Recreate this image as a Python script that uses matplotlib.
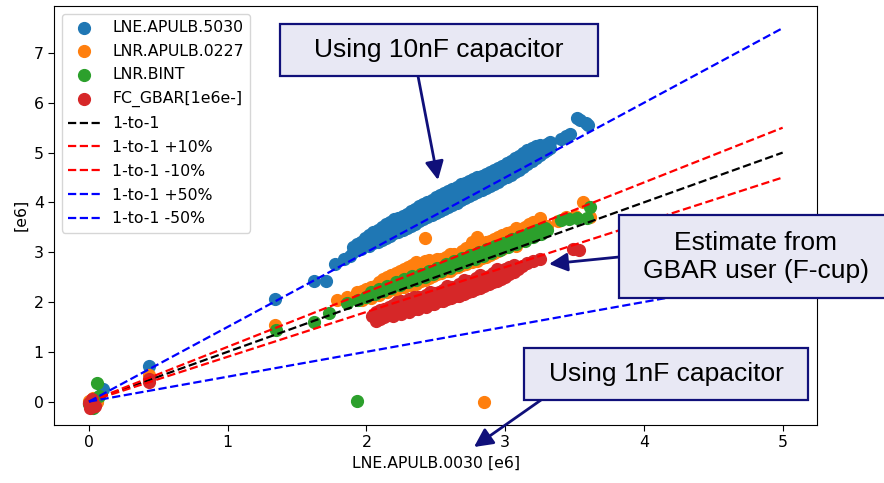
import numpy as np
import matplotlib
matplotlib.use("Agg")
import matplotlib.pyplot as plt
from matplotlib.patches import Rectangle

plt.rcParams["font.size"] = 11.3
plt.rcParams["xtick.major.size"] = 4
plt.rcParams["ytick.major.size"] = 4

# scatter data, (x, y) in units of 1e6
blue_pts = [(0.00, -0.02), (0.04, 0.05), (0.06, 0.02), (0.10, 0.25), (0.43, 0.72),
            (1.34, 2.06), (1.62, 2.42), (1.71, 2.42), (1.77, 2.76), (1.84, 2.86), (1.88, 2.92),
            (1.90, 3.00), (1.90, 3.10), (1.93, 3.05), (1.93, 3.16), (1.96, 3.06), (1.96, 3.20),
            (1.99, 3.14), (1.99, 3.28), (2.02, 3.12), (2.02, 3.25), (2.02, 3.35),
            (2.05, 3.18), (2.05, 3.30), (2.05, 3.40), (2.08, 3.20), (2.08, 3.34), (2.08, 3.45),
            (2.11, 3.24), (2.11, 3.38), (2.11, 3.50), (2.14, 3.28), (2.14, 3.42), (2.14, 3.56),
            (2.17, 3.32), (2.17, 3.47), (2.17, 3.60), (2.20, 3.38), (2.20, 3.52), (2.20, 3.66),
            (2.23, 3.40), (2.23, 3.55), (2.23, 3.69), (2.26, 3.44), (2.26, 3.58), (2.26, 3.72),
            (2.29, 3.48), (2.29, 3.63), (2.29, 3.77), (2.32, 3.52), (2.32, 3.68), (2.32, 3.82),
            (2.35, 3.57), (2.35, 3.72), (2.35, 3.87), (2.38, 3.62), (2.38, 3.76), (2.38, 3.92),
            (2.41, 3.66), (2.41, 3.81), (2.41, 3.96), (2.44, 3.70), (2.44, 3.86), (2.44, 4.00),
            (2.47, 3.74), (2.47, 3.90), (2.47, 4.05), (2.50, 3.78), (2.50, 3.94), (2.50, 4.10),
            (2.53, 3.82), (2.53, 3.98), (2.53, 4.14), (2.56, 3.86), (2.56, 4.02), (2.56, 4.18),
            (2.59, 3.90), (2.59, 4.06), (2.59, 4.22), (2.62, 3.94), (2.62, 4.10), (2.62, 4.26),
            (2.65, 3.99), (2.65, 4.15), (2.65, 4.31), (2.68, 4.04), (2.68, 4.20), (2.68, 4.36),
            (2.71, 4.08), (2.71, 4.24), (2.71, 4.39), (2.74, 4.12), (2.74, 4.28), (2.74, 4.42),
            (2.77, 4.16), (2.77, 4.32), (2.77, 4.46), (2.80, 4.20), (2.80, 4.36), (2.80, 4.50),
            (2.83, 4.24), (2.83, 4.40), (2.83, 4.54), (2.86, 4.28), (2.86, 4.44), (2.86, 4.58),
            (2.89, 4.32), (2.89, 4.48), (2.89, 4.62), (2.92, 4.36), (2.92, 4.52), (2.92, 4.66),
            (2.95, 4.41), (2.95, 4.56), (2.95, 4.70), (2.98, 4.46), (2.98, 4.60), (2.98, 4.74),
            (3.01, 4.51), (3.01, 4.65), (3.01, 4.79), (3.04, 4.56), (3.04, 4.70), (3.04, 4.84),
            (3.07, 4.61), (3.07, 4.75), (3.07, 4.89), (3.10, 4.66), (3.10, 4.80), (3.10, 4.94),
            (3.13, 4.72), (3.13, 4.86), (3.13, 5.00), (3.16, 4.78), (3.16, 4.92), (3.16, 5.06),
            (3.19, 4.84), (3.19, 4.97), (3.19, 5.10), (3.22, 4.90), (3.22, 5.02), (3.22, 5.14),
            (3.25, 4.96), (3.25, 5.08), (3.25, 5.16), (3.28, 5.02), (3.28, 5.14),
            (3.30, 5.06), (3.30, 5.18), (3.32, 5.10), (3.32, 5.22),
            (3.40, 5.28), (3.44, 5.34), (3.47, 5.38), (3.52, 5.70), (3.54, 5.66),
            (3.58, 5.60), (3.60, 5.56)]

orange_pts = [(0.00, 0.02), (0.03, 0.08), (0.06, 0.00), (0.43, 0.54), (1.34, 1.54),
              (1.79, 2.04), (1.86, 2.10), (1.93, 2.09), (1.93, 2.20),
              (1.97, 2.04), (1.97, 2.22), (2.00, 2.12), (2.00, 2.26), (2.03, 2.08), (2.03, 2.30),
              (2.06, 2.18), (2.06, 2.32), (2.09, 2.14), (2.09, 2.40),
              (2.12, 2.22), (2.12, 2.34), (2.12, 2.47), (2.15, 2.20), (2.15, 2.50),
              (2.18, 2.28), (2.18, 2.42), (2.18, 2.55), (2.21, 2.24), (2.21, 2.58),
              (2.24, 2.30), (2.24, 2.48), (2.24, 2.62), (2.27, 2.30), (2.27, 2.66),
              (2.30, 2.34), (2.30, 2.52), (2.30, 2.70), (2.33, 2.34), (2.33, 2.74),
              (2.36, 2.36), (2.36, 2.58), (2.36, 2.80), (2.39, 2.42), (2.39, 2.76),
              (2.42, 2.44), (2.42, 2.64), (2.42, 2.82), (2.45, 2.48), (2.45, 2.84),
              (2.48, 2.52), (2.48, 2.80), (2.51, 2.56), (2.51, 2.86),
              (2.54, 2.58), (2.54, 2.86), (2.57, 2.62), (2.57, 2.90),
              (2.60, 2.62), (2.60, 2.80), (2.60, 2.97), (2.63, 2.68), (2.63, 2.96),
              (2.66, 2.70), (2.66, 2.92), (2.69, 2.74), (2.69, 3.02),
              (2.72, 2.76), (2.72, 2.96), (2.72, 3.08), (2.76, 2.80), (2.76, 3.20),
              (2.80, 2.82), (2.80, 3.10), (2.80, 3.31), (2.83, 2.88), (2.83, 3.18),
              (2.86, 2.90), (2.86, 3.20), (2.89, 2.94), (2.89, 3.22),
              (2.92, 2.98), (2.92, 3.26), (2.95, 3.02), (2.95, 3.30),
              (2.98, 3.06), (2.98, 3.34), (3.01, 3.10), (3.01, 3.38),
              (3.04, 3.14), (3.04, 3.40), (3.08, 3.13), (3.08, 3.48), (3.11, 3.22), (3.11, 3.46),
              (3.14, 3.30), (3.14, 3.50), (3.17, 3.36), (3.17, 3.56),
              (3.20, 3.40), (3.20, 3.60), (3.25, 3.43), (3.25, 3.68), (3.30, 3.52),
              (3.38, 3.62), (3.44, 3.70), (3.50, 3.72), (3.56, 4.00), (3.61, 3.70),
              (2.42, 3.28), (2.85, 0.00)]

green_pts = [(0.00, -0.05), (0.03, -0.12), (0.06, 0.38), (0.07, 0.12), (1.35, 1.44),
             (1.62, 1.60), (1.73, 1.78), (1.86, 1.98), (1.94, 2.05), (2.00, 2.10),
             (2.06, 2.16), (2.12, 2.22), (2.18, 2.28), (2.24, 2.34), (2.30, 2.40),
             (2.36, 2.44), (2.42, 2.50), (2.48, 2.56), (2.54, 2.62), (2.60, 2.68),
             (2.66, 2.74), (2.72, 2.80), (2.78, 2.86), (2.84, 2.92), (2.90, 2.98),
             (2.96, 3.04), (3.02, 3.10), (3.08, 3.16), (3.14, 3.22), (3.20, 3.30),
             (3.26, 3.36), (3.30, 3.44),
             (2.03, 2.20), (2.09, 2.26), (2.15, 2.32), (2.21, 2.40), (2.27, 2.46),
             (2.33, 2.52), (2.39, 2.56), (2.45, 2.62), (2.51, 2.68), (2.57, 2.76),
             (2.63, 2.82), (2.69, 2.88), (2.75, 2.94), (2.81, 3.00), (2.87, 3.06),
             (2.93, 3.12), (2.99, 3.18), (3.05, 3.26), (3.11, 3.32), (3.17, 3.38),
             (3.23, 3.44), (3.29, 3.48),
             (3.40, 3.64), (3.46, 3.66), (3.52, 3.68), (3.59, 3.68), (3.61, 3.90),
             (1.93, 0.02)]

red_pts = [(0.00, -0.03), (0.02, 0.05), (0.04, -0.08), (0.01, -0.12), (0.43, 0.40), (0.43, 0.46),
           (2.04, 1.72), (2.07, 1.80), (2.07, 1.62), (2.10, 1.66), (2.10, 1.84),
           (2.13, 1.70), (2.13, 1.86), (2.16, 1.74), (2.16, 1.90), (2.19, 1.72), (2.19, 1.94),
           (2.22, 1.78), (2.22, 1.92), (2.22, 2.00), (2.25, 1.76), (2.25, 2.02),
           (2.28, 1.82), (2.28, 1.98), (2.31, 1.80), (2.31, 2.06),
           (2.34, 1.86), (2.34, 2.00), (2.34, 2.10), (2.37, 1.86), (2.37, 2.10),
           (2.40, 1.92), (2.40, 2.10), (2.43, 1.90), (2.43, 2.14),
           (2.46, 1.96), (2.46, 2.08), (2.46, 2.20), (2.49, 1.96), (2.49, 2.18),
           (2.52, 2.02), (2.52, 2.20), (2.55, 2.02), (2.55, 2.24),
           (2.58, 2.06), (2.58, 2.20), (2.58, 2.32), (2.61, 2.08), (2.61, 2.30),
           (2.64, 2.12), (2.64, 2.30), (2.67, 2.12), (2.67, 2.36),
           (2.70, 2.16), (2.70, 2.30), (2.70, 2.44), (2.73, 2.20), (2.73, 2.42),
           (2.76, 2.22), (2.76, 2.40), (2.79, 2.26), (2.79, 2.48),
           (2.82, 2.28), (2.82, 2.42), (2.82, 2.54), (2.85, 2.32), (2.85, 2.50),
           (2.88, 2.36), (2.88, 2.52), (2.91, 2.40), (2.91, 2.58),
           (2.94, 2.42), (2.94, 2.56), (2.94, 2.67), (2.97, 2.46), (2.97, 2.62),
           (3.00, 2.50), (3.00, 2.66), (3.03, 2.56), (3.03, 2.70),
           (3.06, 2.60), (3.06, 2.74), (3.09, 2.66), (3.12, 2.72), (3.16, 2.78),
           (3.20, 2.82), (3.25, 2.86), (3.49, 3.06), (3.53, 3.04)]

series = [("LNE.APULB.5030", blue_pts, "tab:blue"),
          ("LNR.APULB.0227", orange_pts, "tab:orange"),
          ("LNR.BINT", green_pts, "tab:green"),
          ("FC_GBAR[1e6e-]", red_pts, "tab:red")]

# reference lines: label, slope, colour
ref_lines = [("1-to-1", 1.0, "k"),
             ("1-to-1 +10%", 1.1, "r"),
             ("1-to-1 -10%", 0.9, "r"),
             ("1-to-1 +50%", 1.5, "b"),
             ("1-to-1 -50%", 0.5, "b")]
line_x = np.array([0.0, 5.0])

fig = plt.figure(figsize=(8.84, 4.83), dpi=100)
ax = fig.add_axes([0.0614, 0.1201, 0.8632, 0.8681])

for name, pts, c in series:
    xy = np.array(pts)
    ax.scatter(xy[:, 0], xy[:, 1], s=72, color=c, label=name)
for name, k, c in ref_lines:
    ax.plot(line_x, k * line_x, "--", color=c, lw=1.6, label=name)

ax.set_xlim(-0.25, 5.25)
ax.set_ylim(-0.47, 7.95)
ax.set_xlabel("LNE.APULB.0030 [e6]")
ax.set_ylabel("[e6]")
ax.legend(loc="upper left", fontsize=11.3, labelspacing=0.56)

# call-out boxes in figure pixels (x0, y_top, width, height), text centre
navy = "#10107a"
fill = "#e8e8f4"
W, H = 884.0, 483.0
boxes = [((280, 24, 318, 52), (439, 50), "Using 10nF capacitor"),
         ((619, 215, 275, 83), (756, 257), "Estimate from\nGBAR user (F-cup)"),
         ((524, 348, 284, 52), (666, 374), "Using 1nF capacitor")]
for (x0, y0, w, h), (tx, ty), txt in boxes:
    fig.patches.append(Rectangle((x0 / W, 1 - (y0 + h) / H), w / W, h / H,
                                 transform=fig.transFigure, facecolor=fill,
                                 edgecolor=navy, lw=1.6, zorder=5))
    fig.text(tx / W, 1 - ty / H, txt, ha="center", va="center",
             fontsize=19, family="Liberation Sans", linespacing=1.25, zorder=6)

arrows = [((418, 76), (438, 180)),
          ((619, 257), (549, 264)),
          ((541, 400), (474, 447))]
for (sx, sy), (ex, ey) in arrows:
    ax.annotate("", xy=(ex / W, 1 - ey / H), xycoords="figure fraction",
                xytext=(sx / W, 1 - sy / H), textcoords="figure fraction",
                arrowprops=dict(arrowstyle="-|>", color=navy, lw=2,
                                mutation_scale=28, shrinkA=0, shrinkB=0),
                annotation_clip=False)

fig.savefig("out.png", dpi=100)
